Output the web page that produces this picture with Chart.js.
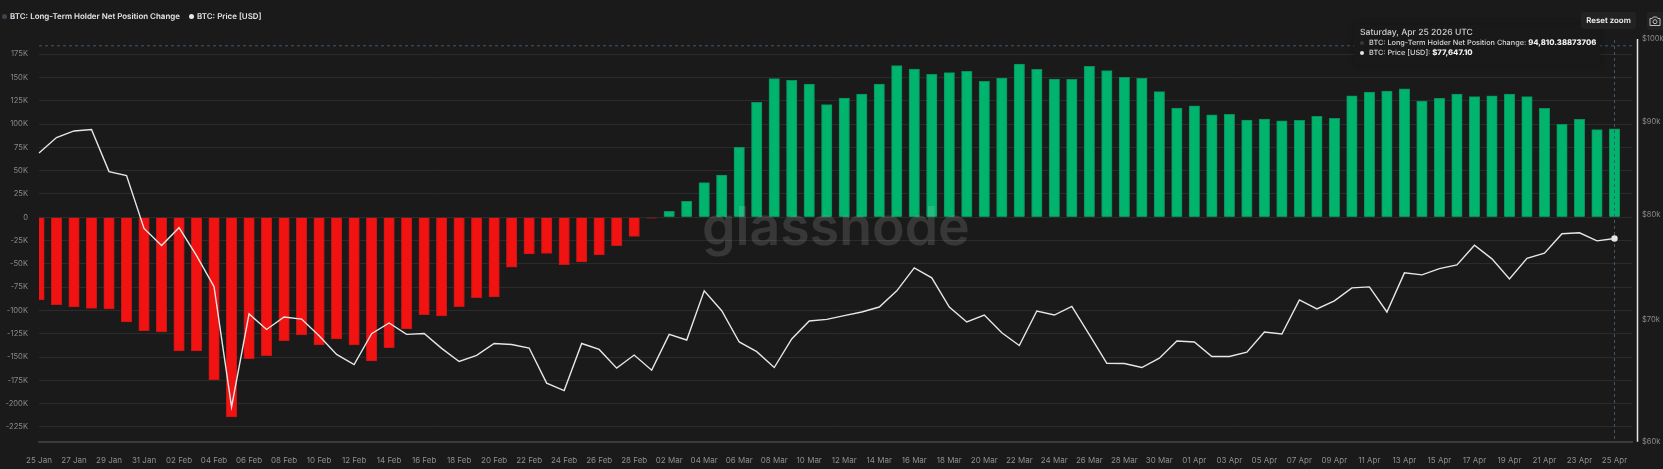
<!DOCTYPE html>
<html><head><meta charset="utf-8">
<script src="https://cdn.jsdelivr.net/npm/chart.js@4"></script>
<style>
html,body{margin:0;padding:0;background:#1a1a1a;width:1663px;height:469px;overflow:hidden;font-family:Inter,sans-serif}
#wrap{position:relative;width:1663px;height:469px}
canvas{position:absolute;left:0;top:0}
.abs{position:absolute;white-space:nowrap;text-rendering:geometricPrecision}
.dot{position:absolute;border-radius:50%;width:5px;height:5px}
.lg{font-size:7.95px;font-weight:600;color:#e6e6e6;line-height:14px}
#tip{left:1354px;top:25px;width:246px;height:39px;background:#191919;box-shadow:0 0 6px rgba(0,0,0,.25)}
.tt{font-size:7.3px;color:#d8d8d8;line-height:12px;font-weight:500}
.tt b{font-weight:800;color:#f0f0f0;font-size:7.7px}
#btn{left:1581px;top:12px;width:55px;height:17px;background:#222;border-radius:3px;color:#f2f2f2;font-size:7.9px;font-weight:600;line-height:17px;text-align:center}
#cam{left:1647px;top:12px;width:16px;height:18px;background:#222;border-radius:3px 0 0 3px}
#wm{left:702px;top:191px;font-family:Inter,sans-serif;font-size:53.6px;line-height:70px;font-weight:600;color:rgba(255,255,255,.13);pointer-events:none}
</style></head><body>
<div id="wrap">
<canvas id="c" width="1663" height="469"></canvas>
<div class="abs" id="wm">glassnode</div>
<div class="dot" style="left:2px;top:14px;background:#3d4452"></div>
<div class="abs lg" style="left:10px;top:9px">BTC: Long-Term Holder Net Position Change</div>
<div class="dot" style="left:189px;top:14px;background:#e6e6e6"></div>
<div class="abs lg" style="left:197px;top:9px">BTC: Price [USD]</div>
<div class="abs" id="tip"></div>
<div class="abs" style="left:1360px;top:27px;font-size:8.6px;color:#cfcfcf;line-height:12px;font-weight:500">Saturday, Apr 25 2026 UTC</div>
<div class="dot" style="left:1360px;top:41px;width:4px;height:4px;background:#333a46"></div>
<div class="abs tt" style="left:1369px;top:37px">BTC: Long-Term Holder Net Position Change: <b>94,810.38873706</b></div>
<div class="dot" style="left:1360px;top:51px;width:4px;height:4px;background:#e6e6e6"></div>
<div class="abs tt" style="left:1369px;top:47px">BTC: Price [USD]: <b>$77,647.10</b></div>
<div class="abs" id="btn">Reset zoom</div>
<div class="abs" id="cam"><svg width="16" height="18" viewBox="0 0 16 18"><path d="M3 6.5h2.2l1-1.5h3.6l1 1.5H13v7H3z" fill="none" stroke="#bdbdbd" stroke-width="1"/><circle cx="8" cy="9.7" r="2" fill="none" stroke="#bdbdbd" stroke-width="1"/></svg></div>
</div>
<script>
const dates = ["25 Jan","26 Jan","27 Jan","28 Jan","29 Jan","30 Jan","31 Jan",
"01 Feb","02 Feb","03 Feb","04 Feb","05 Feb","06 Feb","07 Feb","08 Feb","09 Feb","10 Feb","11 Feb","12 Feb","13 Feb","14 Feb","15 Feb","16 Feb","17 Feb","18 Feb","19 Feb","20 Feb","21 Feb","22 Feb","23 Feb","24 Feb","25 Feb","26 Feb","27 Feb","28 Feb",
"01 Mar","02 Mar","03 Mar","04 Mar","05 Mar","06 Mar","07 Mar","08 Mar","09 Mar","10 Mar","11 Mar","12 Mar","13 Mar","14 Mar","15 Mar","16 Mar","17 Mar","18 Mar","19 Mar","20 Mar","21 Mar","22 Mar","23 Mar","24 Mar","25 Mar","26 Mar","27 Mar","28 Mar","29 Mar","30 Mar","31 Mar",
"01 Apr","02 Apr","03 Apr","04 Apr","05 Apr","06 Apr","07 Apr","08 Apr","09 Apr","10 Apr","11 Apr","12 Apr","13 Apr","14 Apr","15 Apr","16 Apr","17 Apr","18 Apr","19 Apr","20 Apr","21 Apr","22 Apr","23 Apr","24 Apr","25 Apr","26 Apr"];
const netPositionChange = [-88700,-93700,-96200,-97700,-98400,-112300,-121600,-123100,-143500,-143500,-174200,-214300,-151700,-148500,-132400,-126300,-137000,-130600,-137000,-154200,-139900,-119900,-104500,-105900,-95900,-86200,-85500,-53600,-39400,-38700,-50800,-48000,-40400,-30400,-20400,-1000,6400,17100,37200,45400,75100,123400,148700,147000,143000,120800,128000,132300,143000,162700,159100,153400,155200,156600,145900,149500,164500,158800,148400,148000,162000,157300,150200,149100,134800,117300,119700,110000,110500,104400,105500,103600,104000,108300,106200,130200,134400,135500,137700,124800,127700,132300,129400,130200,132300,129400,116900,99800,105100,94000,94810];
const btcPrice = [86540,88250,88990,89150,84520,84090,78640,76960,78710,75980,73040,62710,70560,69180,70280,70100,68630,67020,66170,68810,69750,68750,68830,67540,66430,66940,67960,67870,67570,64630,64020,67960,67450,65870,66970,65700,68750,68260,72650,70840,68090,67260,65920,68350,69930,70070,70400,70730,71180,72650,74800,73860,71180,69840,70460,68890,67790,70820,70460,71240,68720,66270,66260,65920,66710,68170,68090,66850,66850,67220,68960,68780,71820,71000,71730,72930,73020,70730,74330,74140,74730,75090,76980,75660,73760,75720,76210,78110,78210,77410,77647];
const netTicks = [-225000,-200000,-175000,-150000,-125000,-100000,-75000,-50000,-25000,0,25000,50000,75000,100000,125000,150000,175000];
const priceTicks = [60000,70000,80000,90000,100000];
const hoverIndex = 90;
const hoverLevel = 184000;

const overlay = {
  id:'overlay',
  afterDatasetDraw(ch,args){
    if(args.meta.type!=='bar') return;
    const c=ch.ctx, a=ch.chartArea, x=ch.scales.x.getPixelForValue(hoverIndex), y=ch.scales.y.getPixelForValue(hoverLevel);
    c.save();
    c.strokeStyle='#44596a'; c.lineWidth=1; c.setLineDash([3,3]);
    c.beginPath(); c.moveTo(a.left,y); c.lineTo(a.right,y); c.stroke();
    c.beginPath(); c.moveTo(x,a.top+1); c.lineTo(x,a.bottom); c.stroke();
    c.setLineDash([]); c.strokeStyle='#e6e6e6'; c.lineWidth=1.5;
    const px=a.right+5.5;
    c.beginPath(); c.moveTo(px,a.top); c.lineTo(px,a.bottom); c.stroke();
    c.restore();
  }
};

new Chart(document.getElementById('c'),{
  data:{labels:dates,datasets:[
    {type:'line',label:'BTC: Price [USD]',data:btcPrice,yAxisID:'y1',order:0,borderColor:'#e6e6e6',borderWidth:1.4,tension:0,
     pointRadius:c=>c.dataIndex===hoverIndex?3.2:0,pointBackgroundColor:'#e6e6e6',pointBorderWidth:0},
    {type:'bar',label:'BTC: Long-Term Holder Net Position Change',data:netPositionChange,yAxisID:'y',order:1,barThickness:10.5,
     backgroundColor:c=>c.raw<0?'#f11212':'#00b46e',borderColor:c=>c.raw<0?'#c51414':'#0a8f5c',borderWidth:1}
  ]},
  options:{
    responsive:false,animation:false,
    layout:{padding:{top:39,left:0,right:0,bottom:0}},
    plugins:{legend:{display:false},tooltip:{enabled:false}},
    scales:{
      x:{type:'category',offset:false,grid:{display:false},border:{color:'#3a3a3a',width:2},
         ticks:{autoSkip:false,maxRotation:0,minRotation:0,padding:6,color:'#8f8f8f',font:{family:'Inter',size:8},
           callback(v,i){return i%2===0?dates[i]:'';}},
         afterFit(s){s.height=27.3;}},
      y:{type:'linear',position:'left',min:-240800,max:191300,
         grid:{color:'#2b2b2b',lineWidth:1,drawTicks:false},border:{display:false},
         afterBuildTicks(s){s.ticks=netTicks.map(v=>({value:v}));},
         ticks:{padding:11,color:'#8a8a8a',font:{family:'Inter',size:7.6},
           callback(v){return v===0?'0':(v/1000)+'K';}},
         afterFit(s){s.width=39;}},
      y1:{type:'logarithmic',position:'right',min:60000,max:100000,
         grid:{display:false,drawTicks:false},border:{display:false},
         afterBuildTicks(s){s.ticks=priceTicks.map(v=>({value:v}));},
         ticks:{padding:10,color:'#8a8a8a',font:{family:'Inter',size:7.6},
           callback(v){return '$'+(v/1000)+'k';}},
         afterFit(s){s.width=31;}}
    }
  },
  plugins:[overlay]
});
</script>
</body></html>
